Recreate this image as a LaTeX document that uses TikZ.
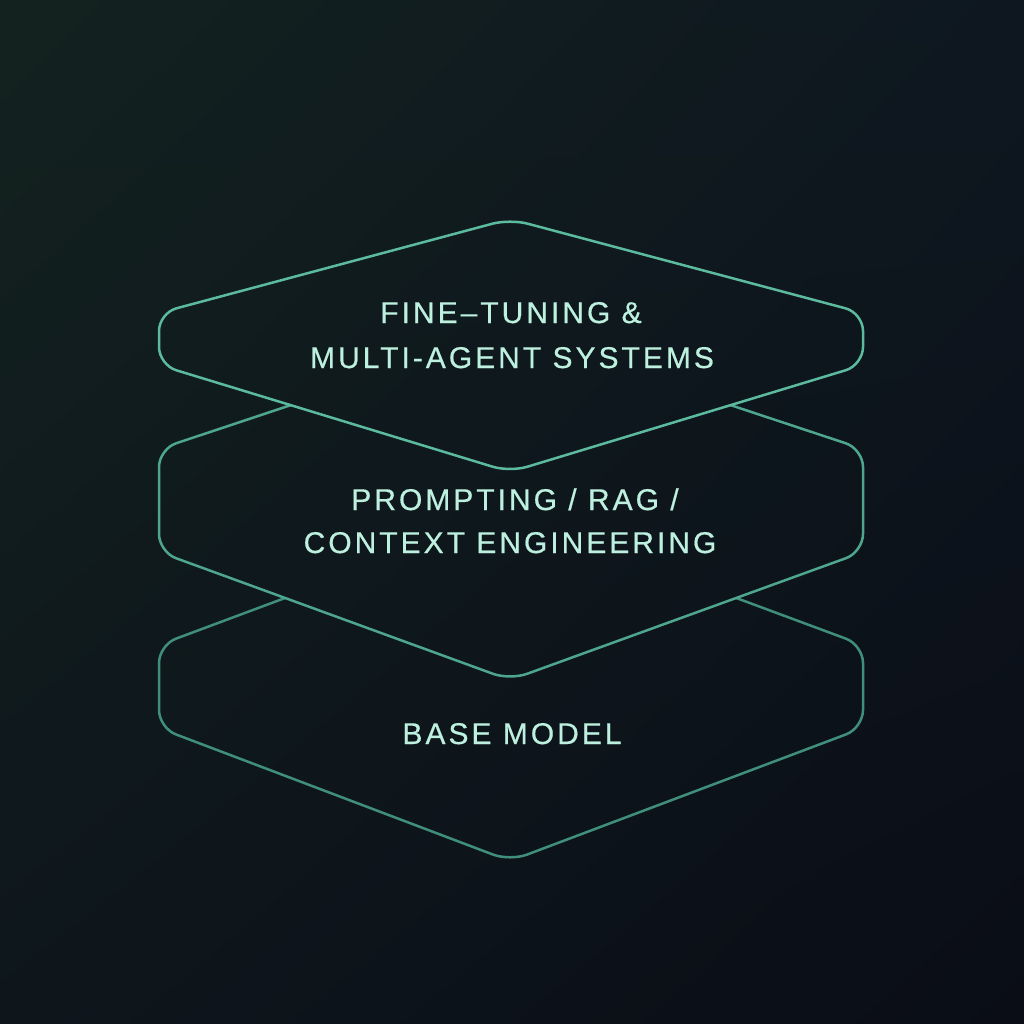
\documentclass[tikz,border=0pt]{standalone}
\usepackage{fontspec}
\setmainfont{Liberation Sans}[LetterSpace=10, FakeBold=0.5]
\usetikzlibrary{shadings}
\definecolor{bgTL}{HTML}{13221F}
\definecolor{bgTR}{HTML}{0E1720}
\definecolor{bgBL}{HTML}{0E161C}
\definecolor{bgBR}{HTML}{0A0D16}
\definecolor{lineTop}{HTML}{5CBA9E}
\definecolor{lineMid}{HTML}{4EA68E}
\definecolor{lineBot}{HTML}{408F7D}
\definecolor{txt}{HTML}{BDF0DE}
\begin{document}
\begin{tikzpicture}[x=1pt,y=-1pt,
  layer/.style={line width=2.5pt, rounded corners=18pt, line join=round, line cap=round},
  lbl/.style={text=txt, font=\fontsize{30}{36}\selectfont, inner sep=0pt, anchor=base}]
\useasboundingbox (0,0) rectangle (1024,1024);
\shade[upper left=bgTL, upper right=bgTR, lower left=bgBL, lower right=bgBR] (0,0) rectangle (1024,1024);
% vertices
\coordinate (t1) at (510,219);
\coordinate (t2) at (863,313);
\coordinate (t3) at (863,365);
\coordinate (t4) at (510,472);
\coordinate (t5) at (159,365);
\coordinate (t6) at (159,313);
\coordinate (tm) at (159,339);
\coordinate (m1) at (510,332);
\coordinate (m2) at (863,449);
\coordinate (m3) at (863,552);
\coordinate (m4) at (510,680);
\coordinate (m5) at (159,552);
\coordinate (m6) at (159,449);
\coordinate (b1) at (510,514);
\coordinate (b2) at (863,645);
\coordinate (b3) at (863,728);
\coordinate (b4) at (510,861);
\coordinate (b5) at (159,728);
\coordinate (b6) at (159,645);
\coordinate (i1) at (intersection of t5--t4 and m6--m1);
\coordinate (i2) at (intersection of t3--t4 and m2--m1);
\coordinate (j1) at (intersection of m5--m4 and b6--b1);
\coordinate (j2) at (intersection of m3--m4 and b2--b1);
% bottom layer
\draw[layer, lineBot] (j1) -- (b6) -- (b5) -- (b4) -- (b3) -- (b2) -- (j2);
% middle layer
\draw[layer, lineMid] (i1) -- (m6) -- (m5) -- (m4) -- (m3) -- (m2) -- (i2);
% top layer
\draw[layer, lineTop] (tm) -- (t6) -- (t1) -- (t2) -- (t3) -- (t4) -- (t5) -- (tm);
% labels
\node[lbl] (top1) at (511,323) {FINE–TUNING \&};
\node[lbl] (top2) at (512,368) {MULTI-AGENT SYSTEMS};
\node[lbl] (mid1) at (515,510) {PROMPTING / RAG /};
\node[lbl] (mid2) at (510,553) {CONTEXT ENGINEERING};
\node[lbl] (bot1) at (512,744) {BASE MODEL};
\end{tikzpicture}
\end{document}
